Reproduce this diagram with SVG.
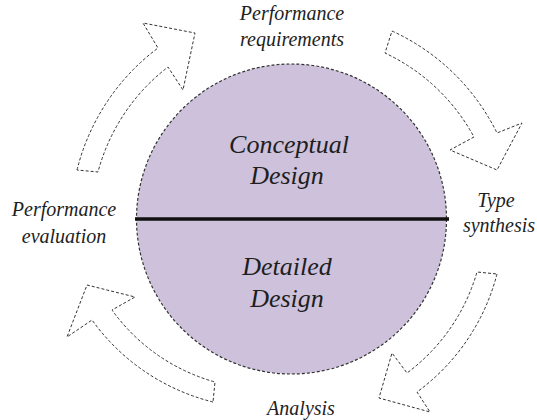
<svg xmlns="http://www.w3.org/2000/svg" width="537" height="420" viewBox="0 0 537 420">
<style>
.arrow{fill:#fff;stroke:#333;stroke-width:1;stroke-dasharray:3,2;stroke-linejoin:miter}
.big{font-family:'Liberation Serif','Times New Roman',serif;font-style:italic;font-size:26px;fill:#1e1e1e;text-anchor:middle}
.lbl{font-family:'Liberation Serif','Times New Roman',serif;font-style:italic;font-size:20px;fill:#1e1e1e;text-anchor:middle}
</style>
<rect width="537" height="420" fill="#fff"/>
<g id="connectors">
<path class="arrow" d="M77,170 A218,218 0 0 1 158,48 L143,23 L195,33 L183,90 L168,67 A196,196 0 0 0 98,172 Z"/>
<path class="arrow" d="M392,31 A218,218 0 0 1 497,133 L522,123 L497,170 L450,150 L474,137 A196,196 0 0 0 385,53 Z"/>
<path class="arrow" d="M497,274 A212,212 0 0 1 417,392 L430,412 L379,398 L392,353 L407,373 A192,192 0 0 0 477,272 Z"/>
<path class="arrow" d="M213,402 A212,212 0 0 1 92,320 L67,337 L87,285 L135,297 L112,310 A190,190 0 0 0 215,382 Z"/>
</g>
<g id="design-circle">
<circle cx="291.5" cy="219" r="155" fill="#cdc1db" stroke="#333" stroke-width="1.2" stroke-dasharray="3,2"/>
<line x1="135" y1="219" x2="449" y2="219" stroke="#111" stroke-width="3.5"/>
</g>
<g id="conceptual-design">
<text class="big" x="289" y="153">Conceptual</text>
<text class="big" x="287" y="184">Design</text>
</g>
<g id="detailed-design">
<text class="big" x="287" y="275">Detailed</text>
<text class="big" x="287" y="307">Design</text>
</g>
<g id="performance-requirements">
<text class="lbl" x="292" y="20">Performance</text>
<text class="lbl" x="292" y="46">requirements</text>
</g>
<g id="type-synthesis">
<text class="lbl" x="496" y="207">Type</text>
<text class="lbl" x="499" y="232">synthesis</text>
</g>
<g id="analysis">
<text class="lbl" x="301" y="415">Analysis</text>
</g>
<g id="performance-evaluation">
<text class="lbl" x="64" y="216">Performance</text>
<text class="lbl" x="64" y="243">evaluation</text>
</g>
</svg>
